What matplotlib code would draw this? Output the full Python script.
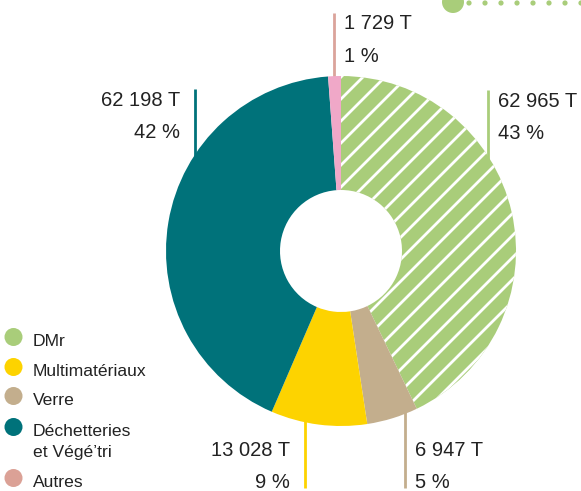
import numpy as np
import matplotlib
matplotlib.use("Agg")
import matplotlib.pyplot as plt
from matplotlib.patches import Circle

# ─── DATA ───
categories = ["DMr", "Multimatériaux", "Verre", "Déchetteries\net Végé’tri", "Autres"]
tonnes = [62965, 13028, 6947, 62198, 1729]
legend_colors = ["#a9cd7a", "#fdd300", "#c3ae8d", "#00727a", "#dba196"]
wedge_colors = ["#a9cd7a", "#fdd300", "#c3ae8d", "#00727a", "#f0a8c8"]
line_colors = ["#a9cd7a", "#fdd300", "#c3ae8d", "#00727a", "#dba39b"]
pie_order = [0, 2, 1, 3, 4]   # clockwise from 12 o'clock

# hatch spacing follows the dpi, so render at 132 dpi and scale point sizes to match
DPI = 132
K = 100 / DPI

plt.rcParams["font.family"] = ["Liberation Sans", "DejaVu Sans"]
plt.rcParams["hatch.linewidth"] = 2.0 * K

W, H = 581, 491
CX, CY, R = 341, 251, 175
HOLE = 61
TXT = "#222222"

fig = plt.figure(figsize=(W / DPI, H / DPI), dpi=DPI, facecolor="white")
ax = fig.add_axes([0, 0, 1, 1])

total = sum(tonnes)
pcts = [round(100 * v / total) for v in tonnes]

# ─── DONUT ─── (y axis inverted, so counterclock in data = clockwise on screen)
wedges, _ = ax.pie([tonnes[i] for i in pie_order], colors=[wedge_colors[i] for i in pie_order],
                   center=(CX, CY), radius=R, startangle=-90, counterclock=True,
                   wedgeprops=dict(width=R - HOLE, linewidth=0, edgecolor="none"))
for w in wedges:
    w.set_zorder(3)
wedges[0].set_hatch("//")
wedges[0].set_edgecolor("white")
wedges[0].set_linewidth(0)

ax.set_xlim(0, W)
ax.set_ylim(H, 0)
ax.set_aspect("equal")
ax.axis("off")


def ring_y(x, top=True, inset=6):
    dy = np.sqrt(max(R ** 2 - (x - CX) ** 2, 0)) - inset
    return CY - dy if top else CY + dy


# ─── LEADER LINES + LABELS ───
# (category index, line x, line start y, top?, text x, ha, baseline1, baseline2)
leaders = [
    (0, 488, 90, True, 498, "left", 107, 139),
    (3, 195, 89, True, 180, "right", 106, 138),
    (4, 333.5, 13, True, 344, "left", 29, 62),
    (1, 305, 488, False, 290, "right", 456, 488),
    (2, 405, 488, False, 415, "left", 456, 488),
]
for idx, lx, ly0, top, tx, ha, b1, b2 in leaders:
    ax.plot([lx, lx], [ly0, ring_y(lx, top)], color=line_colors[idx], linewidth=2 * K,
            zorder=2, solid_capstyle="butt")
    ax.text(tx, b1, f"{tonnes[idx]:,} T".replace(",", " "), ha=ha, va="baseline",
            fontsize=14.5 * K, color=TXT)
    ax.text(tx, b2, f"{pcts[idx]} %", ha=ha, va="baseline", fontsize=14.5 * K, color=TXT)

# ─── LEGEND ───
leg_y = [337, 367, 396, 427, 478]
leg_base = [346, 376, 405, 436, 487]
for cat, col, cy, by in zip(categories, legend_colors, leg_y, leg_base):
    ax.add_patch(Circle((13.5, cy), 9, facecolor=col, edgecolor="none"))
    for k, line in enumerate(cat.split("\n")):
        ax.text(33, by + 21.5 * k, line, ha="left", va="baseline", fontsize=12.6 * K, color=TXT)

# ─── DECORATION top right ───
deco = "#a9cd7a"
ax.add_patch(Circle((453, 2), 11, facecolor=deco, edgecolor="none", clip_on=False))
for dx in range(469, 590, 16):
    ax.add_patch(Circle((dx, 3), 2.6, facecolor=deco, edgecolor="none"))

fig.savefig("out.png", dpi=DPI, facecolor="white")
